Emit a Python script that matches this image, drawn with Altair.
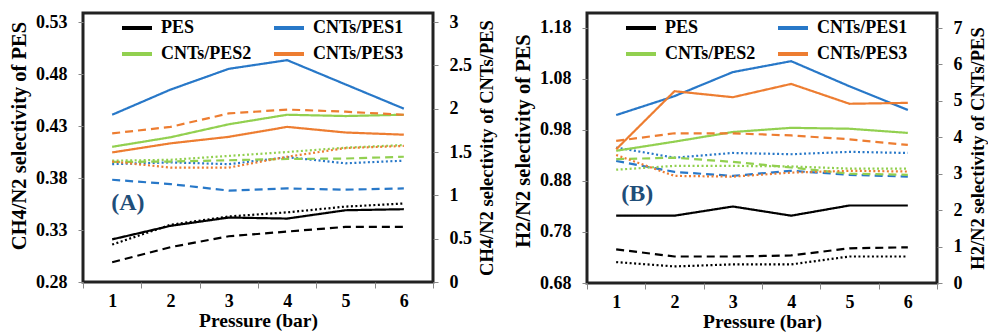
import altair as alt
import pandas as pd

pressure = [1, 2, 3, 4, 5, 6]
series_names = ["PES", "CNTs/PES1", "CNTs/PES2", "CNTs/PES3"]
series_colors = ["#000000", "#2878C8", "#92D050", "#ED7D31"]
styles = ["solid", "dashed", "dotted"]

# Panel A: CH4/N2 selectivity (PES on left axis, CNTs/PES on right axis)
a_pes_solid = [0.321, 0.334, 0.342, 0.341, 0.349, 0.350]
a_pes_dashed = [0.299, 0.3135, 0.324, 0.3285, 0.333, 0.333]
a_pes_dotted = [0.316, 0.335, 0.343, 0.347, 0.3525, 0.3555]
a_cnt1_solid = [1.93, 2.22, 2.46, 2.56, 2.28, 2.00]
a_cnt1_dashed = [1.18, 1.13, 1.055, 1.08, 1.065, 1.08]
a_cnt1_dotted = [1.36, 1.38, 1.36, 1.44, 1.37, 1.40]
a_cnt2_solid = [1.56, 1.67, 1.82, 1.93, 1.915, 1.93]
a_cnt2_dashed = [1.385, 1.39, 1.405, 1.42, 1.425, 1.445]
a_cnt2_dotted = [1.40, 1.41, 1.455, 1.50, 1.55, 1.58]
a_cnt3_solid = [1.495, 1.60, 1.675, 1.79, 1.725, 1.70]
a_cnt3_dashed = [1.715, 1.79, 1.945, 1.99, 1.965, 1.93]
a_cnt3_dotted = [1.39, 1.32, 1.32, 1.445, 1.545, 1.57]

# Panel B: H2/N2 selectivity
b_pes_solid = [0.812, 0.812, 0.830, 0.812, 0.832, 0.832]
b_pes_dashed = [0.746, 0.732, 0.732, 0.734, 0.748, 0.750]
b_pes_dotted = [0.721, 0.7125, 0.7165, 0.7165, 0.732, 0.732]
b_cnt1_solid = [4.61, 5.13, 5.79, 6.09, 5.40, 4.75]
b_cnt1_dashed = [3.35, 3.05, 2.94, 3.08, 2.97, 2.92]
b_cnt1_dotted = [3.72, 3.44, 3.57, 3.535, 3.60, 3.57]
b_cnt2_solid = [3.63, 3.88, 4.145, 4.26, 4.235, 4.12]
b_cnt2_dashed = [3.40, 3.44, 3.325, 3.17, 3.00, 2.97]
b_cnt2_dotted = [3.11, 3.215, 3.215, 3.20, 3.14, 3.14]
b_cnt3_solid = [3.67, 5.265, 5.10, 5.465, 4.92, 4.945]
b_cnt3_dashed = [3.90, 4.11, 4.11, 4.05, 3.945, 3.79]
b_cnt3_dotted = [3.515, 2.94, 2.92, 3.03, 3.08, 3.06]

a_left_ticks = [0.28, 0.33, 0.38, 0.43, 0.48, 0.53]
a_right_ticks = [0, 0.5, 1, 1.5, 2, 2.5, 3]
b_left_ticks = [0.68, 0.78, 0.88, 0.98, 1.08, 1.18]
b_right_ticks = [0, 1, 2, 3, 4, 5, 6, 7]

FONT = "Liberation Serif"


def long_df(entries):
    rows = []
    for name, style, vals in entries:
        for p, v in zip(pressure, vals):
            rows.append({"pressure": p, "series": name, "style": style, "value": v})
    return pd.DataFrame(rows)


a_left = long_df([
    ("PES", "solid", a_pes_solid), ("PES", "dashed", a_pes_dashed), ("PES", "dotted", a_pes_dotted)])
a_right = long_df([
    ("CNTs/PES1", "solid", a_cnt1_solid), ("CNTs/PES1", "dashed", a_cnt1_dashed), ("CNTs/PES1", "dotted", a_cnt1_dotted),
    ("CNTs/PES2", "solid", a_cnt2_solid), ("CNTs/PES2", "dashed", a_cnt2_dashed), ("CNTs/PES2", "dotted", a_cnt2_dotted),
    ("CNTs/PES3", "solid", a_cnt3_solid), ("CNTs/PES3", "dashed", a_cnt3_dashed), ("CNTs/PES3", "dotted", a_cnt3_dotted)])
b_left = long_df([
    ("PES", "solid", b_pes_solid), ("PES", "dashed", b_pes_dashed), ("PES", "dotted", b_pes_dotted)])
b_right = long_df([
    ("CNTs/PES1", "solid", b_cnt1_solid), ("CNTs/PES1", "dashed", b_cnt1_dashed), ("CNTs/PES1", "dotted", b_cnt1_dotted),
    ("CNTs/PES2", "solid", b_cnt2_solid), ("CNTs/PES2", "dashed", b_cnt2_dashed), ("CNTs/PES2", "dotted", b_cnt2_dotted),
    ("CNTs/PES3", "solid", b_cnt3_solid), ("CNTs/PES3", "dashed", b_cnt3_dashed), ("CNTs/PES3", "dotted", b_cnt3_dotted)])

a_tag = pd.DataFrame({"pressure": [1], "value": [0.356], "label": ["(A)"]})
b_tag = pd.DataFrame({"pressure": [1], "value": [0.8545], "label": ["(B)"]})


def panel(left_df, right_df, tag_df, tag_dx, left_domain, left_ticks, left_fmt, left_title, left_title_y,
          right_domain, right_ticks, right_fmt, right_title, height):
    x = alt.X("pressure:O",
              scale=alt.Scale(type="band", paddingInner=0, paddingOuter=0),
              bandPosition=0.5,
              axis=alt.Axis(title="Pressure (bar)", tickBand="extent", labelAngle=0,
                            labelPadding=4, tickSize=6, titleFontSize=19.5, titlePadding=1))
    color = alt.Color("series:N",
                      scale=alt.Scale(domain=series_names, range=series_colors),
                      legend=alt.Legend(orient="none", legendX=37, legendY=-2, columns=2,
                                        direction="horizontal",
                                        columnPadding=14, rowPadding=-4, padding=0,
                                        symbolType="stroke", symbolSize=900, symbolStrokeWidth=4,
                                        labelFont=FONT, labelFontSize=18, labelFontWeight="bold",
                                        labelColor="black", labelOffset=7, title=None))
    dash = alt.StrokeDash("style:N",
                          scale=alt.Scale(domain=styles, range=[[1, 0], [8, 5], [2, 2.5]]),
                          legend=None)
    y_left = alt.Y("value:Q",
                   scale=alt.Scale(domain=left_domain, nice=False, zero=False),
                   axis=alt.Axis(title=left_title, values=left_ticks, format=left_fmt, orient="left",
                                 titleFontSize=20.5, labelPadding=11, titlePadding=6,
                                 titleY=left_title_y))
    y_right = alt.Y("value:Q",
                    scale=alt.Scale(domain=right_domain, nice=False, zero=True),
                    axis=alt.Axis(title=right_title, values=right_ticks, format=right_fmt, orient="right",
                                  titleFontSize=18.5, titleAngle=-90, titleBaseline="top",
                                  labelPadding=11, titlePadding=6))
    left_lines = alt.Chart(left_df).mark_line(strokeWidth=2.2).encode(
        x=x, y=y_left, color=color, strokeDash=dash)
    tag = alt.Chart(tag_df).mark_text(align="left", baseline="middle", font=FONT, fontSize=24,
                                      fontWeight="bold", color="#1F4E79", dx=tag_dx).encode(
        x=x, y=y_left, text="label:N")
    right_lines = alt.Chart(right_df).mark_line(strokeWidth=2.2).encode(
        x=x, y=y_right, color=color, strokeDash=dash)
    return alt.layer(alt.layer(left_lines, tag), right_lines).resolve_scale(y="independent").properties(
        width=350, height=height)


panel_a = panel(a_left, a_right, a_tag, -1, [0.28, 0.5387], a_left_ticks, ".2f",
                "CH4/N2 selectivity of PES", 122.5,
                [0, 3.104], a_right_ticks, ".1~f", "CH4/N2 selectivity of CNTs/PES", 269)
panel_b = panel(b_left, b_right, b_tag, 5, [0.68, 1.2094], b_left_ticks, ".2f",
                "H2/N2 selectivity of PES", 127.5,
                [0, 7.412], b_right_ticks, "d", "H2/N2 selectivity of CNTs/PES", 270)

chart = alt.hconcat(panel_a, panel_b, spacing=14).resolve_scale(
    color="independent", strokeDash="independent").resolve_legend(color="independent").properties(
    padding={"left": 8, "top": 9, "right": 0, "bottom": 0}, background="white"
).configure_view(stroke="#222222", strokeWidth=3).configure_axis(
    labelFont=FONT, labelFontSize=18, labelFontWeight="bold", labelColor="black",
    titleFont=FONT, titleFontWeight="bold", titleColor="black",
    domain=False, grid=False, tickColor="#888888", tickSize=5, tickWidth=1)

chart.save("out.html", embed_options={"renderer": "svg", "actions": False})
